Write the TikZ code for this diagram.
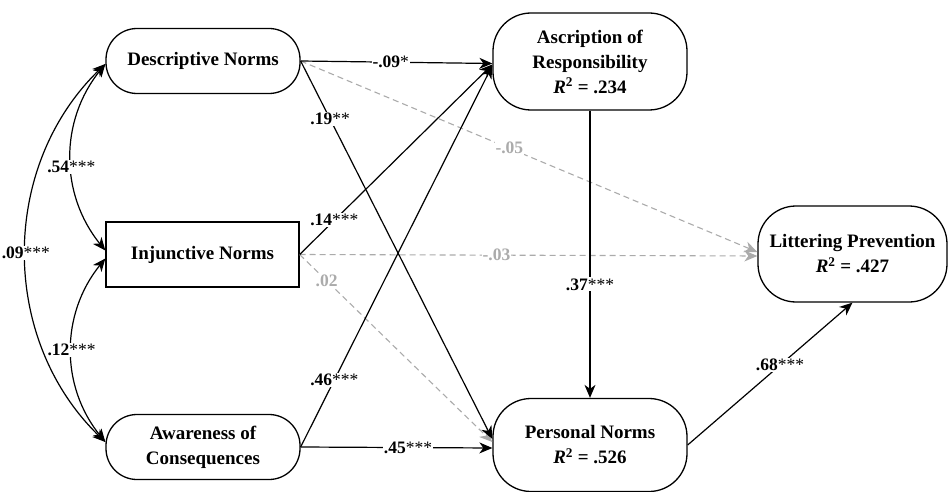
\documentclass[tikz,border=0pt]{standalone}
\usepackage{fontspec}
\setmainfont{Liberation Serif}
\usetikzlibrary{arrows.meta}
\definecolor{lg}{HTML}{ABABAB}
\begin{document}
\begin{tikzpicture}[x=1pt,y=-1pt,
  box/.style={draw, line width=1.3pt, align=center, inner sep=0pt,
    font=\fontsize{19}{25}\selectfont\bfseries, minimum width=194pt},
  rbox/.style={box, rounded corners=31pt, minimum height=65pt},
  bbox/.style={box, rounded corners=38pt},
  sbox/.style={box, minimum height=65pt},
  arr/.style={line width=1.2pt, -{Stealth[length=13pt,width=11pt,inset=4pt]}},
  darr/.style={line width=1.2pt, {Stealth[length=13pt,width=11pt,inset=4pt]}-{Stealth[length=13pt,width=11pt,inset=4pt]}},
  garr/.style={line width=1.1pt, lg, dash pattern=on 6pt off 4pt, -{Stealth[length=13pt,width=11pt,inset=4pt]}},
  lab/.style={fill=white, inner sep=1pt, font=\fontsize{17.5}{20}\selectfont},
  glab/.style={lab, text=lg, font=\fontsize{17.5}{20}\selectfont\bfseries}
]
\useasboundingbox (0,0) rectangle (948,492);

\node[rbox] (DN) at (203,61) {Descriptive Norms};
\node[sbox, minimum width=193pt] (IN) at (202.5,254.5) {Injunctive Norms};
\node[rbox] (AC) at (203,447) {Awareness of\\Consequences};
\node[bbox, minimum height=97pt] (AR) at (590,61.5) {Ascription of\\Responsibility\\\textit{R}\textsuperscript{2} = .234};
\node[bbox, minimum height=93pt] (PN) at (590,445) {Personal Norms\\\textit{R}\textsuperscript{2} = .526};
\node[bbox, minimum height=96pt, minimum width=189pt] (LP) at (852.5,254) {Littering Prevention\\\textit{R}\textsuperscript{2} = .427};

% non-significant paths
\draw[garr] (DN.east) -- node[glab, pos=0.457] {-.05} ([yshift=2pt]LP.west);
\draw[garr] (IN.east) -- node[glab, pos=0.43] {-.03} ([yshift=-2pt]LP.west);
\draw[garr] (IN.east) -- node[glab, pos=0.14] {.02} ([yshift=3pt]PN.west);

% significant paths
\draw[arr] (DN.east) -- node[lab, pos=0.47] {\textbf{-.09}*} ([yshift=-2pt]AR.west);
\draw[arr] (DN.east) -- node[lab, pos=0.154] {\textbf{.19}**} ([yshift=6pt]PN.west);
\draw[arr] (IN.east) -- node[lab, pos=0.18] {\textbf{.14}***} ([yshift=-3pt]AR.west);
\draw[arr] (AC.east) -- node[lab, pos=0.176] {\textbf{.46}***} ([yshift=-4pt]AR.west);
\draw[arr] (AC.east) -- node[lab, pos=0.56] {\textbf{.45}***} ([yshift=-3pt]PN.west);
\draw[arr] (AR.south) -- node[lab, pos=0.605] {\textbf{.37}***} (PN.north);
\draw[arr] (PN.east) -- node[lab, pos=0.56] {\textbf{.68}***} (LP.south);

% correlations
\draw[darr] ([yshift=-3pt]DN.west) to[bend right=39] node[lab, pos=0.55] {\textbf{.54}***} ([yshift=4pt]IN.west);
\draw[darr] ([yshift=-4pt]IN.west) to[bend right=39] node[lab] {\textbf{.12}***} ([yshift=5pt]AC.west);
\draw[darr] ([yshift=-3pt]DN.west) to[bend right=46] node[lab] {\textbf{.09}***} ([yshift=5pt]AC.west);
\end{tikzpicture}
\end{document}
